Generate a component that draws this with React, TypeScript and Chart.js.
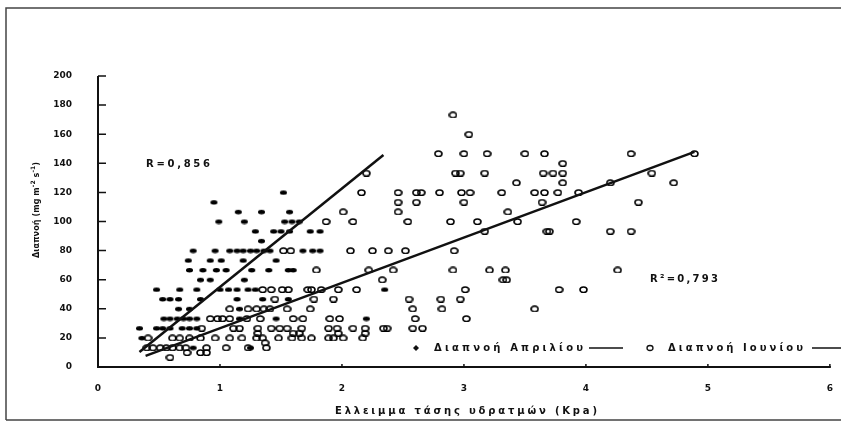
import React, { useEffect, useRef } from 'react';
import { Chart, registerables } from 'chart.js';

Chart.register(...registerables);

// ---- data ----
const xTickValues = [0, 1, 2, 3, 4, 5, 6];
const yTickValues = [0, 20, 40, 60, 80, 100, 120, 140, 160, 180, 200];

const aprilLabel = 'Διαπνοή Απριλίου';
const juneLabel = 'Διαπνοή Ιουνίου';
const xTitle = 'Ελλειμμα τάσης υδρατμών (Kpa)';
const aprilR = 'R=0,856';
const juneR = 'R²=0,793';

// April (filled markers): y-levels and the x positions found on each level
const aprilLevels = [120, 113.3, 106.7, 100, 93.3, 86.7, 80, 73.3, 66.7, 60, 53.3, 46.7, 40, 33.3, 26.7, 20, 13.3];
const aprilX = [
  [1.52],
  [0.95],
  [1.15, 1.34, 1.57],
  [0.99, 1.2, 1.53, 1.59, 1.65],
  [1.29, 1.44, 1.5, 1.57, 1.74, 1.82],
  [1.34],
  [0.78, 0.96, 1.08, 1.14, 1.19, 1.25, 1.3, 1.36, 1.41, 1.68, 1.76, 1.82],
  [0.74, 0.92, 1.01, 1.19, 1.46],
  [0.75, 0.86, 0.97, 1.05, 1.26, 1.4, 1.56, 1.6],
  [0.84, 0.92, 1.2],
  [0.48, 0.67, 0.81, 1.0, 1.07, 1.14, 1.23, 1.29, 2.35],
  [0.53, 0.59, 0.66, 0.84, 1.14, 1.35, 1.56],
  [0.66, 0.75, 1.16],
  [0.54, 0.59, 0.65, 0.7, 0.75, 0.81, 1.16, 1.46, 2.2],
  [0.34, 0.48, 0.53, 0.59, 0.69, 0.75, 0.81],
  [0.36],
  [0.78, 1.25],
];

// June (open markers)
const juneLevels = [173.3, 160, 146.7, 140, 133.3, 126.7, 120, 113.3, 106.7, 100, 93.3, 80, 66.7, 60, 53.3, 46.7, 40, 33.3, 26.7, 23.3, 20, 16.7, 13.3, 10, 6.7];
const juneX = [
  [2.91],
  [3.04],
  [2.79, 3.0, 3.19, 3.5, 3.66, 4.37, 4.89],
  [3.81],
  [2.2, 2.93, 2.97, 3.17, 3.65, 3.73, 3.81, 4.54],
  [3.43, 3.81, 4.2, 4.72],
  [2.16, 2.46, 2.61, 2.65, 2.8, 2.98, 3.05, 3.31, 3.58, 3.66, 3.77, 3.94],
  [2.46, 2.61, 3.0, 3.64, 4.43],
  [2.01, 2.46, 3.36],
  [1.87, 2.09, 2.54, 2.89, 3.11, 3.44, 3.92],
  [3.17, 3.68, 3.7, 4.2, 4.37],
  [1.52, 1.58, 2.07, 2.25, 2.38, 2.52, 2.92],
  [1.79, 2.22, 2.42, 2.91, 3.21, 3.34, 4.26],
  [2.33, 3.32, 3.35],
  [1.35, 1.42, 1.51, 1.56, 1.72, 1.75, 1.83, 1.97, 2.12, 3.01, 3.78, 3.98],
  [1.45, 1.77, 1.93, 2.55, 2.81, 2.97],
  [1.08, 1.23, 1.3, 1.36, 1.41, 1.55, 1.74, 2.58, 2.82, 3.58],
  [0.92, 0.98, 1.02, 1.08, 1.22, 1.33, 1.6, 1.68, 1.9, 1.98, 2.6, 3.02],
  [0.85, 1.11, 1.16, 1.31, 1.42, 1.49, 1.55, 1.67, 1.89, 1.96, 2.09, 2.19, 2.34, 2.37, 2.58, 2.66],
  [1.31, 1.6, 1.65, 1.97, 2.19],
  [0.41, 0.61, 0.67, 0.75, 0.84, 0.96, 1.08, 1.18, 1.3, 1.35, 1.48, 1.59, 1.67, 1.75, 1.89, 1.93, 2.01, 2.17],
  [1.37],
  [0.4, 0.45, 0.51, 0.56, 0.61, 0.67, 0.72, 0.89, 1.05, 1.23, 1.38],
  [0.73, 0.84, 0.89],
  [0.59],
];

// regression line end points
const aprilFitX = [0.34, 2.34];
const aprilFitY = [10.3, 145.7];
const juneFitX = [0.39, 4.89];
const juneFitY = [7.6, 147.8];

const FONT = "'DejaVu Sans', 'Liberation Sans', sans-serif";
const INK = '#111';

function drawSpaced(ctx: CanvasRenderingContext2D, text: string, left: number, y: number, width: number) {
  const chars = Array.from(text);
  const ws = chars.map((c) => ctx.measureText(c).width);
  const natural = ws.reduce((a, b) => a + b, 0);
  const gap = chars.length > 1 ? (width - natural) / (chars.length - 1) : 0;
  let x = left;
  ctx.textAlign = 'left';
  chars.forEach((c, i) => {
    ctx.fillText(c, x, y);
    x += ws[i] + gap;
  });
}

function makeMarker(w: number, h: number, filled: boolean): HTMLCanvasElement {
  const c = document.createElement('canvas');
  c.width = w + 2;
  c.height = h + 2;
  const g = c.getContext('2d') as CanvasRenderingContext2D;
  g.beginPath();
  g.ellipse((w + 2) / 2, (h + 2) / 2, w / 2, h / 2, 0, 0, Math.PI * 2);
  if (filled) {
    g.fillStyle = '#000';
    g.fill();
  } else {
    g.strokeStyle = '#000';
    g.lineWidth = 1.6;
    g.stroke();
  }
  return c;
}

const decor = {
  id: 'decor',
  afterDraw(chart: any) {
    const ctx: CanvasRenderingContext2D = chart.ctx;
    const xs = chart.scales.x;
    const ys = chart.scales.y;
    const x0 = xs.getPixelForValue(xTickValues[0]);
    const x1 = xs.getPixelForValue(xTickValues[xTickValues.length - 1]);
    const y0 = ys.getPixelForValue(yTickValues[0]);
    const y1 = ys.getPixelForValue(yTickValues[yTickValues.length - 1]);
    ctx.save();

    // outer frame
    ctx.strokeStyle = '#444';
    ctx.lineWidth = 1.5;
    ctx.beginPath();
    ctx.moveTo(6, 420);
    ctx.lineTo(6, 8);
    ctx.lineTo(841, 8);
    ctx.moveTo(6, 420);
    ctx.lineTo(841, 420);
    ctx.stroke();

    // axes
    ctx.strokeStyle = INK;
    ctx.lineWidth = 2;
    ctx.beginPath();
    ctx.moveTo(x0, y1);
    ctx.lineTo(x0, y0);
    ctx.lineTo(x1 + 1, y0);
    ctx.stroke();
    ctx.lineWidth = 1.5;
    ctx.beginPath();
    yTickValues.forEach((v) => {
      const p = ys.getPixelForValue(v);
      ctx.moveTo(x0, p);
      ctx.lineTo(x0 + 8, p);
    });
    xTickValues.forEach((v) => {
      const p = xs.getPixelForValue(v);
      ctx.moveTo(p, y0);
      ctx.lineTo(p, y0 - 3);
    });
    ctx.stroke();

    ctx.fillStyle = INK;
    ctx.textBaseline = 'middle';

    // x title
    ctx.font = `bold 10px ${FONT}`;
    drawSpaced(ctx, xTitle, 335, 411, 262);

    // annotations
    drawSpaced(ctx, aprilR, 146, 164, 64);
    drawSpaced(ctx, juneR, 650, 279, 68);

    // legend
    const ly = 348;
    ctx.beginPath();
    ctx.moveTo(416, ly - 3);
    ctx.lineTo(419, ly);
    ctx.lineTo(416, ly + 3);
    ctx.lineTo(413, ly);
    ctx.closePath();
    ctx.fill();
    drawSpaced(ctx, aprilLabel, 434, ly, 149);
    ctx.lineWidth = 1.5;
    ctx.beginPath();
    ctx.moveTo(589, ly);
    ctx.lineTo(623, ly);
    ctx.stroke();
    ctx.lineWidth = 1.3;
    ctx.beginPath();
    ctx.ellipse(650, ly, 3, 2.5, 0, 0, Math.PI * 2);
    ctx.stroke();
    drawSpaced(ctx, juneLabel, 668, ly, 135);
    ctx.lineWidth = 1.5;
    ctx.beginPath();
    ctx.moveTo(812, ly);
    ctx.lineTo(841, ly);
    ctx.stroke();

    // y title (rotated, with superscripts)
    ctx.save();
    ctx.translate(37, 258);
    ctx.rotate(-Math.PI / 2);
    const segs = [
      { t: 'Διαπνοή (mg m', sup: false },
      { t: '-2', sup: true },
      { t: ' s', sup: false },
      { t: '-1', sup: true },
      { t: ')', sup: false },
    ];
    const items: { c: string; sup: boolean; w: number }[] = [];
    segs.forEach((s) => {
      ctx.font = s.sup ? `bold 6px ${FONT}` : `bold 8px ${FONT}`;
      Array.from(s.t).forEach((c) => items.push({ c, sup: s.sup, w: ctx.measureText(c).width }));
    });
    const natural = items.reduce((a, b) => a + b.w, 0);
    const target = 96;
    const gap = (target - natural) / (items.length - 1);
    let x = 0;
    items.forEach((it) => {
      ctx.font = it.sup ? `bold 6px ${FONT}` : `bold 8px ${FONT}`;
      ctx.fillText(it.c, x, it.sup ? -4 : 0);
      x += it.w + gap;
    });
    ctx.restore();

    ctx.restore();
  },
};

export default function App() {
  const ref = useRef<HTMLCanvasElement | null>(null);

  useEffect(() => {
    if (!ref.current) return;
    const aprilPts = aprilLevels.flatMap((v, i) => aprilX[i].map((x) => ({ x, y: v })));
    const junePts = juneLevels.flatMap((v, i) => juneX[i].map((x) => ({ x, y: v })));
    const tickFont = { family: FONT, weight: 'bold' as const, size: 9 };
    const aprilMarker = makeMarker(7, 4.5, true);
    const juneMarker = makeMarker(7, 5.5, false);

    const chart = new Chart(ref.current, {
      type: 'scatter',
      data: {
        datasets: [
          {
            label: 'fitApril',
            data: aprilFitX.map((x, i) => ({ x, y: aprilFitY[i] })),
            showLine: true,
            borderColor: INK,
            borderWidth: 2.5,
            pointRadius: 0,
          },
          {
            label: 'fitJune',
            data: juneFitX.map((x, i) => ({ x, y: juneFitY[i] })),
            showLine: true,
            borderColor: INK,
            borderWidth: 2.5,
            pointRadius: 0,
          },
          {
            label: aprilLabel,
            data: aprilPts,
            pointStyle: aprilMarker as any,
            pointRadius: 3,
            backgroundColor: INK,
            borderColor: INK,
          },
          {
            label: juneLabel,
            data: junePts,
            pointStyle: juneMarker as any,
            pointRadius: 3.5,
            backgroundColor: 'rgba(255,255,255,0)',
            borderColor: '#222',
          },
        ],
      },
      options: {
        animation: false,
        responsive: false,
        devicePixelRatio: 1,
        layout: { padding: { left: 0, right: 11, top: 76, bottom: 0 } },
        plugins: { legend: { display: false }, tooltip: { enabled: false } },
        scales: {
          x: {
            type: 'linear',
            min: 0,
            max: 6,
            afterBuildTicks: (s: any) => {
              s.ticks = xTickValues.map((v) => ({ value: v }));
            },
            ticks: { padding: 8, font: tickFont, color: INK, maxRotation: 0 },
            grid: { display: false },
            border: { display: false },
            afterFit: (s: any) => {
              s.height = 56;
            },
          },
          y: {
            type: 'linear',
            min: 0,
            max: 200,
            afterBuildTicks: (s: any) => {
              s.ticks = yTickValues.map((v) => ({ value: v }));
            },
            ticks: { padding: 18, font: tickFont, color: INK },
            grid: { display: false },
            border: { display: false },
            afterFit: (s: any) => {
              s.width = 98;
            },
          },
        },
      },
      plugins: [decor],
    });
    return () => chart.destroy();
  }, []);

  return (
    <div style={{ position: 'absolute', left: 0, top: 0, width: 841, height: 423, background: '#fff' }}>
      <canvas ref={ref} width={841} height={423} style={{ display: 'block' }} />
    </div>
  );
}
